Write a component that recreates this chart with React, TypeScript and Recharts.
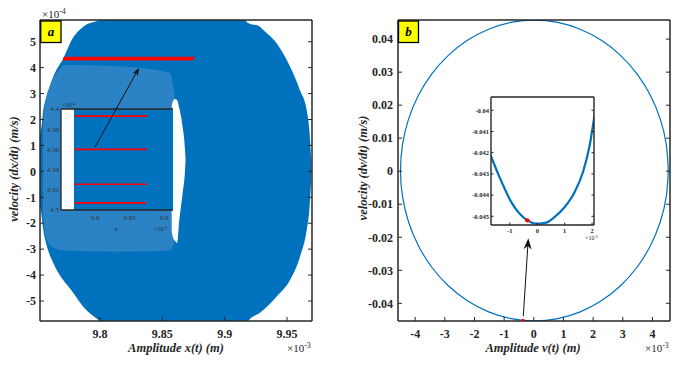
import React from 'react';
import { ComposedChart, XAxis, YAxis, Area, Line, ReferenceLine, CartesianGrid } from 'recharts';

const FONT = '"Liberation Serif", "Times New Roman", serif';
const INK = '#262626';
const BLUE = '#0072BD';
const SPARSE = '#2b83c6';
const RED = '#FF0000';

// ---------- panel a : x in 1e-3 m, velocity in 1e-4 m/s ----------
const aXDomain = [9.75187, 9.97005];
const aYDomain = [-5.771, 5.837];
const aXTicks = [9.8, 9.85, 9.9, 9.95];
const aYTicks = [-5, -4, -3, -2, -1, 0, 1, 2, 3, 4, 5];

// outline of the filled band of trajectories (lower / upper edge per x)
const bandX = [9.749, 9.751, 9.7527, 9.7545, 9.7572, 9.7625, 9.7706, 9.7773, 9.7866, 9.8, 9.81, 9.91, 9.9163, 9.9189, 9.9283, 9.931, 9.9417, 9.9524, 9.9604, 9.9658, 9.9679, 9.9692, 9.9697];
const bandLow = [-0.3, -1.1, -1.55, -2.26, -2.85, -3.53, -4.2, -4.6, -5.22, -5.77, -6.1, -6.1, -6.0, -5.77, -5.45, -5.35, -4.83, -4.19, -3.29, -2.26, -1.49, -0.5, 0];
const bandHigh = [0.3, 1.2, 1.6, 2.37, 2.88, 3.65, 4.36, 5.07, 5.58, 5.84, 6.1, 6.1, 5.84, 5.72, 5.58, 5.45, 4.94, 4.04, 3.13, 2.37, 1.6, 0.6, 0.1];

// sparser part of the band (lighter)
const sparseX = [9.7543, 9.7559, 9.7599, 9.7655, 9.7719, 9.816, 9.8561, 9.8586, 9.8601];
const sparseLow = [-1.8, -2.4, -2.85, -3.0, -3.05, -3.1, -3.05, -2.9, -2.6];
const sparseHigh = [1.9, 2.6, 3.3, 3.8, 4.1, 4.05, 3.8, 3.3, 2.8];

// empty gap right of the inset
const gapX = [9.8575, 9.8582, 9.8601, 9.8618, 9.8636, 9.8663, 9.8682, 9.8686];
const gapLow = [-2.3, -2.49, -2.68, -2.76, -1.88, -0.83, 0.05, 0.44];
const gapHigh = [2.5, 2.67, 2.79, 2.75, 2.44, 1.71, 0.82, 0.44];

// red segments (also shown in the inset)
const redY = [4.393, 4.36, 4.3255, 4.307];
const redX0 = [9.771, 9.7705, 9.7705, 9.7705];
const redX1 = [9.8758, 9.875, 9.875, 9.874];

const arrowATail = { x: 9.796, y: 0.94 };
const arrowATip = { x: 9.8313, y: 3.99 };

// inset of panel a
const aInXDomain = [9.75072, 9.91304];
const aInYDomain = [4.3, 4.4];
const aInXTicks = [9.8, 9.85, 9.9];
const aInYTicks = [4.3, 4.32, 4.34, 4.36, 4.38, 4.4];
const aInFillX = [9.7695, 9.95];
const aInFillLow = [4.2, 4.2];
const aInFillHigh = [4.5, 4.5];

// ---------- panel b : x in 1e-3 m, velocity in m/s ----------
const bXDomain = [-4.579, 4.592];
const bYDomain = [-0.04536, 0.04579];
const bXTicks = [-4, -3, -2, -1, 0, 1, 2, 3, 4];
const bYTicks = [-0.04, -0.03, -0.02, -0.01, 0, 0.01, 0.02, 0.03, 0.04];

const orbitX = [4.535, 4.466, 4.263, 3.93, 3.479, 2.922, 2.278, 1.564, 0.804, 0.02, -0.764, -1.524, -2.238, -2.882, -3.439, -3.89, -4.223, -4.426, -4.495, -4.426, -4.223, -3.89, -3.439, -2.882, -2.238, -1.524, -0.764, 0.02, 0.804, 1.564, 2.278, 2.922, 3.479, 3.93, 4.263, 4.466, 4.535];
const orbitY = [0.0002, 0.00811, 0.01578, 0.02298, 0.02948, 0.03509, 0.03965, 0.043, 0.04506, 0.04575, 0.04506, 0.043, 0.03965, 0.03509, 0.02948, 0.02298, 0.01578, 0.00811, 0.0002, -0.00771, -0.01538, -0.02258, -0.02908, -0.03469, -0.03925, -0.0426, -0.04466, -0.04535, -0.04466, -0.0426, -0.03925, -0.03469, -0.02908, -0.02258, -0.01538, -0.00771, 0.0002];

const bDotX = -0.365;
const bDotY = -0.04519;
const arrowBTail = { x: -0.354, y: -0.04385 };
const arrowBTip = { x: -0.185, y: -0.0203 };

// inset of panel b
const bInXDomain = [-1.69, 2.069];
const bInYDomain = [-0.04541, -0.039373];
const bInXTicks = [-1, 0, 1, 2];
const bInYTicks = [-0.045, -0.044, -0.043, -0.042, -0.041, -0.04];
const bInX = [-1.75, -1.68, -1.434, -1.19, -0.949, -0.642, -0.365, 0, 0.328, 0.635, 1.0, 1.365, 1.668, 1.912, 2.069, 2.15];
const bInY = [-0.04198, -0.0422, -0.04299, -0.0437, -0.04433, -0.04488, -0.04519, -0.04535, -0.0453, -0.04503, -0.04456, -0.04385, -0.04291, -0.04165, -0.0404, -0.0397];

const pairs = (xs: number[], ys: number[]) => xs.map((x, i) => ({ x, y: ys[i] }));
const ranges = (xs: number[], lo: number[], hi: number[]) => xs.map((x, i) => ({ x, r: [lo[i], hi[i]] }));
const blank = () => '';

type TickFont = { size: number; weight: number; color: string };

// tick label drawn as plain svg text so the serif face is used
const serifTick = (f: TickFont) => (p: any) => {
  const { x, y, payload, textAnchor, verticalAnchor } = p;
  const dy = verticalAnchor === 'start' ? '0.71em' : verticalAnchor === 'end' ? '0' : '0.355em';
  return (
    <text x={x} y={y} dy={dy} textAnchor={textAnchor} fontFamily={FONT} fontSize={f.size} fontWeight={f.weight} fill={f.color}>
      {String(payload.value)}
    </text>
  );
};

type AxCfg = {
  xd: number[]; yd: number[]; xt: number[]; yt: number[];
  top: number; bottom: number; left: number; right?: number;
  tick: number; xGap: number; yGap: number; font: TickFont; lw: number; tickLines?: boolean;
};

// MATLAB style box: labelled bottom/left axes, blank top/right axes, ticks pointing inwards
function boxAxes(c: AxCfg) {
  const line = { stroke: INK, strokeWidth: c.lw };
  const tl = c.tickLines === false ? false : { stroke: INK, strokeWidth: 1 };
  const lbl = serifTick(c.font);
  const els = [
    <XAxis key="xb" dataKey="x" type="number" domain={c.xd} ticks={c.xt} allowDataOverflow interval={0}
      height={c.bottom} tickSize={-c.tick} tickMargin={c.tick + c.xGap} tick={lbl} axisLine={line} tickLine={tl} />,
    <YAxis key="yl" type="number" domain={c.yd} ticks={c.yt} allowDataOverflow interval={0}
      width={c.left} tickSize={-c.tick} tickMargin={c.tick + c.yGap} tick={lbl} axisLine={line} tickLine={tl} />,
    <XAxis key="xt" xAxisId="top" orientation="top" type="number" domain={c.xd} ticks={c.xt} allowDataOverflow interval={0}
      height={c.top} tickSize={-c.tick} tickFormatter={blank} axisLine={line} tickLine={tl} />,
  ];
  if (c.right !== undefined) {
    els.push(
      <YAxis key="yr" yAxisId="right" orientation="right" type="number" domain={c.yd} ticks={c.yt} allowDataOverflow interval={0}
        width={c.right} tickSize={-c.tick} tickFormatter={blank} axisLine={line} tickLine={tl} />
    );
  }
  return els;
}

const arrowShape = (len: number, half: number) => (p: any) => {
  const { x1, y1, x2, y2 } = p;
  const a = Math.atan2(y2 - y1, x2 - x1);
  const c = Math.cos(a);
  const s = Math.sin(a);
  const bx = x2 - len * c;
  const by = y2 - len * s;
  const nx = x2 - len * 0.7 * c;
  const ny = y2 - len * 0.7 * s;
  const pts = `${x2},${y2} ${bx - half * s},${by + half * c} ${nx},${ny} ${bx + half * s},${by - half * c}`;
  return (
    <g>
      <line x1={x1} y1={y1} x2={nx} y2={ny} stroke="#111" strokeWidth={1} />
      <polygon points={pts} fill="#111" />
    </g>
  );
};

const mainFont = { size: 12, weight: 700, color: INK };
const insetAFont = { size: 7, weight: 400, color: '#333' };
const insetBFont = { size: 6.5, weight: 700, color: INK };

function Exp({ x, y, size, exp }: { x: number; y: number; size: number; exp: string }) {
  return (
    <text x={x} y={y} fontSize={size} fill={INK}>
      ×10<tspan dy={-size * 0.38} fontSize={size * 0.72}>{exp}</tspan>
    </text>
  );
}

export default function App() {
  const none = { top: 0, right: 0, bottom: 0, left: 0 };
  const at = (left: number, top: number) => ({ position: 'absolute' as const, left, top, fontFamily: FONT });
  return (
    <div style={{ position: 'absolute', left: 0, top: 0, width: 691, height: 370, background: '#fff', overflow: 'hidden', fontFamily: FONT }}>
      {/* panel a */}
      <div style={at(0, 0)}>
        <ComposedChart width={345} height={370} margin={none}>
          <Area data={ranges(bandX, bandLow, bandHigh)} dataKey="r" type="monotone" fill={BLUE} fillOpacity={1} stroke="none" isAnimationActive={false} />
          <Area data={ranges(sparseX, sparseLow, sparseHigh)} dataKey="r" type="monotone" fill={SPARSE} fillOpacity={1} stroke="none" isAnimationActive={false} />
          <Area data={ranges(gapX, gapLow, gapHigh)} dataKey="r" type="monotone" fill="#fff" fillOpacity={1} stroke="none" isAnimationActive={false} />
          {redY.map((y, i) => (
            <Line key={'r' + i} data={[{ x: redX0[i], y }, { x: redX1[i], y }]} dataKey="y" stroke={RED} strokeWidth={1.6} dot={false} isAnimationActive={false} />
          ))}
          {boxAxes({ xd: aXDomain, yd: aYDomain, xt: aXTicks, yt: aYTicks, top: 20, bottom: 49, left: 40, right: 33, tick: 4, xGap: 8, yGap: 4, font: mainFont, lw: 1.5 })}
        </ComposedChart>
      </div>

      {/* inset of panel a */}
      <div style={at(30, 100)}>
        <ComposedChart width={143} height={135} margin={none}>
          <CartesianGrid fill="#fff" fillOpacity={1} horizontal={false} vertical={false} stroke="none" />
          <Area data={ranges(aInFillX, aInFillLow, aInFillHigh)} dataKey="r" type="linear" fill={BLUE} fillOpacity={1} stroke="none" isAnimationActive={false} />
          {redY.map((y, i) => (
            <Line key={'ir' + i} data={[{ x: redX0[i], y }, { x: redX1[i], y }]} dataKey="y" stroke={RED} strokeWidth={1.7} dot={false} isAnimationActive={false} />
          ))}
          {boxAxes({ xd: aInXDomain, yd: aInYDomain, xt: aInXTicks, yt: aInYTicks, top: 9, bottom: 25, left: 31, tick: 2, xGap: 5, yGap: 2, font: insetAFont, lw: 1.3, tickLines: false })}
        </ComposedChart>
      </div>

      {/* arrow of panel a, drawn over the inset */}
      <div style={at(0, 0)}>
        <ComposedChart width={345} height={370} margin={{ top: 20, right: 33, bottom: 49, left: 40 }}>
          <XAxis hide dataKey="x" type="number" domain={aXDomain} allowDataOverflow />
          <YAxis hide type="number" domain={aYDomain} allowDataOverflow />
          <ReferenceLine segment={[arrowATail, arrowATip]} ifOverflow="visible" shape={arrowShape(8, 3)} />
        </ComposedChart>
      </div>

      {/* panel b */}
      <div style={at(345, 0)}>
        <ComposedChart width={346} height={370} margin={none}>
          <Line data={pairs(orbitX, orbitY)} dataKey="y" type="natural" stroke={BLUE} strokeWidth={1.2} dot={false} isAnimationActive={false} />
          <ReferenceLine segment={[arrowBTail, arrowBTip]} ifOverflow="visible" shape={arrowShape(11, 4)} />
          <Line data={[{ x: bDotX, y: bDotY }]} dataKey="y" stroke="none" dot={{ r: 1.7, fill: RED, stroke: 'none' }} isAnimationActive={false} />
          {boxAxes({ xd: bXDomain, yd: bYDomain, xt: bXTicks, yt: bYTicks, top: 20, bottom: 49, left: 53, right: 21, tick: 4, xGap: 8, yGap: 5, font: mainFont, lw: 1.5 })}
        </ComposedChart>
      </div>

      {/* inset of panel b */}
      <div style={at(460, 90)}>
        <ComposedChart width={136} height={160} margin={none}>
          <CartesianGrid fill="#fff" fillOpacity={1} horizontal={false} vertical={false} stroke="none" />
          <Line data={pairs(bInX, bInY)} dataKey="y" type="monotone" stroke={BLUE} strokeWidth={2.2} dot={false} isAnimationActive={false} />
          <Line data={[{ x: bDotX, y: bDotY }]} dataKey="y" stroke="none" dot={{ r: 2.2, fill: RED, stroke: 'none' }} isAnimationActive={false} />
          {boxAxes({ xd: bInXDomain, yd: bInYDomain, xt: bInXTicks, yt: bInYTicks, top: 7, bottom: 25, left: 31, right: 2, tick: 2.5, xGap: 3, yGap: 2, font: insetBFont, lw: 1.4 })}
        </ComposedChart>
      </div>

      {/* titles, exponents and panel tags */}
      <svg width={691} height={370} style={{ position: 'absolute', left: 0, top: 0 }} fontFamily={FONT}>
        <g fill={INK} fontWeight={700} fontStyle="italic" fontSize={12.5} textAnchor="middle">
          <text x={176} y={351.5}>Amplitude x(t) (m)</text>
          <text x={533} y={351.5}>Amplitude v(t) (m)</text>
          <text transform="translate(18,169) rotate(-90)">velocity (dx/dt) (m/s)</text>
          <text transform="translate(367,168) rotate(-90)">velocity (dv/dt) (m/s)</text>
        </g>
        <Exp x={42} y={18} size={11} exp="-4" />
        <Exp x={287} y={352} size={11} exp="-3" />
        <Exp x={645} y={352} size={11} exp="-3" />
        <Exp x={62} y={107} size={6} exp="-4" />
        <Exp x={154} y={231} size={6} exp="-3" />
        <text x={116} y={231} fontSize={7} fill="#333" textAnchor="middle">x</text>
        <Exp x={585} y={240} size={6} exp="-3" />
        <rect x={40.75} y={21} width={20.25} height={21.5} fill="#FFFF00" stroke="#000" strokeWidth={1.3} />
        <text x={51} y={36} textAnchor="middle" fontSize={13} fontWeight={700} fontStyle="italic" fill="#000">a</text>
        <rect x={398.5} y={21} width={20} height={21.5} fill="#FFFF00" stroke="#000" strokeWidth={1.3} />
        <text x={408.5} y={36} textAnchor="middle" fontSize={13} fontWeight={700} fontStyle="italic" fill="#000">b</text>
      </svg>
    </div>
  );
}
